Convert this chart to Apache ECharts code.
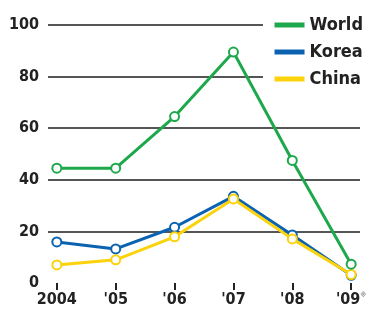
<!DOCTYPE html>
<html lang="en">
<head>
    <meta charset="UTF-8">
    <title>World / Korea / China</title>
    <script type="text/javascript" src="https://cdn.jsdelivr.net/npm/echarts@6/dist/echarts.min.js"></script>
    <style>
        html, body { margin: 0; padding: 0; background: #fff; }
        #charts { width: 370px; height: 311px; }
    </style>
</head>
<body>
<div id="charts"></div>
<script>
    // values
    var years = ["2004", "'05", "'06", "'07", "'08", "'09"]
    var world = [44.5, 44.5, 64.5, 89.5, 47.5, 7.3]
    var korea = [15.9, 13.2, 21.6, 33.6, 18.6, 3.0]
    var china = [7.0, 9.0, 17.9, 32.6, 17.1, 3.3]
    var yTicks = [0, 20, 40, 60, 80, 100]

    var colors = {World: '#1ea84c', Korea: '#0b62b0', China: '#fcd20a'}
    var font = '"DejaVu Sans Condensed", "Liberation Sans", sans-serif'

    function pairs(arr) {
        return arr.map(function (v, i) { return [i, v] })
    }

    function line(name, data, z) {
        return {
            name: name,
            type: 'line',
            data: pairs(data),
            z: z,
            symbol: 'circle',
            symbolSize: 9,
            lineStyle: {color: colors[name], width: 3},
            itemStyle: {color: '#fff', borderColor: colors[name], borderWidth: 2},
            emphasis: {disabled: true},
            animation: false
        }
    }

    var chart = echarts.init(document.getElementById("charts"), null, {renderer: 'canvas'})
    chart.setOption({
        backgroundColor: '#fff',
        grid: {left: 48, right: 10, top: 25, bottom: 28},
        legend: {
            data: ['World', 'Korea', 'China'].map(function (n) {
                return {name: n, itemStyle: {color: colors[n], borderWidth: 0}}
            }),
            orient: 'vertical',
            right: 2,
            top: 11,
            itemWidth: 30,
            itemHeight: 5,
            itemGap: 9,
            icon: 'rect',
            textStyle: {fontFamily: font, fontWeight: 'bold', fontSize: 18, color: '#222'}
        },
        // blank area behind the legend, the top two rules stop short of it
        graphic: [{
            type: 'rect', left: 263, top: 15, z: 1,
            shape: {width: 110, height: 75},
            style: {fill: '#fff'}
        }],
        xAxis: {
            type: 'value',
            min: -0.15,
            max: 5.15,
            axisLine: {show: false},
            splitLine: {show: false},
            axisTick: {show: true, length: 7, customValues: [0, 1, 2, 3, 4, 5], lineStyle: {color: '#222', width: 2}},
            axisLabel: {
                customValues: [0, 1, 2, 3, 4, 5],
                margin: 9,
                fontFamily: font, fontWeight: 'bold', fontSize: 16, color: '#222',
                formatter: function (v) {
                    var s = years[Math.round(v)]
                    return Math.round(v) == 5 ? s + '{sup|※}' : s
                },
                rich: {sup: {fontSize: 7, color: '#999', verticalAlign: 'top', padding: [0, 0, 8, 0]}}
            }
        },
        yAxis: {
            type: 'value',
            min: 0,
            max: 100,
            interval: 20,
            axisLine: {show: false},
            axisTick: {show: false},
            axisLabel: {
                margin: 9,
                fontFamily: font, fontWeight: 'bold', fontSize: 16, color: '#222',
                formatter: function (v) { return yTicks.indexOf(v) >= 0 ? String(v) : '' }
            },
            splitLine: {
                show: true,
                lineStyle: {
                    color: ['transparent', '#555', '#555', '#555', '#555', '#555'],
                    width: 2
                }
            }
        },
        series: [
            line('Korea', korea, 3),
            line('China', china, 4),
            line('World', world, 5)
        ]
    })
</script>
</body>
</html>
